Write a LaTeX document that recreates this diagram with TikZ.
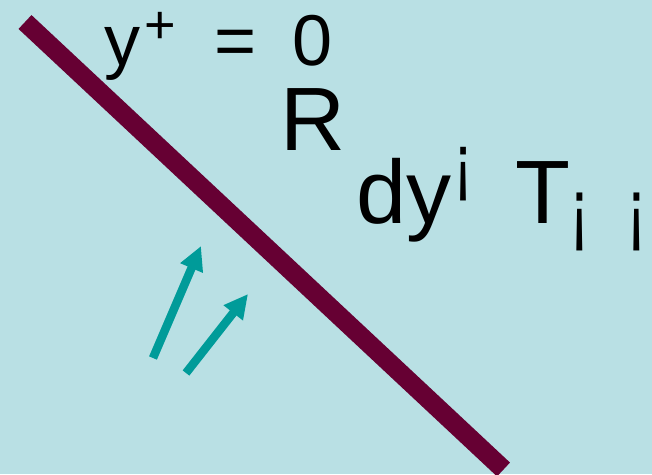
\documentclass[tikz,border=0pt]{standalone}
\usepackage{fontspec}
\usepackage{graphicx}
\setmainfont{Liberation Sans}
\usetikzlibrary{arrows.meta}
\definecolor{bgblue}{HTML}{B9E0E4}
\definecolor{wallred}{HTML}{660033}
\definecolor{tealar}{HTML}{009B99}
\tikzset{
  txt/.style={inner sep=0pt, anchor=base west, text=black},
  flowarrow/.style={draw=tealar, line width=8.5pt, -{Triangle[length=24pt,width=23pt]}},
}
\begin{document}
\begin{tikzpicture}[x=1pt,y=-1pt]
\fill[bgblue] (0,0) rectangle (652,474);
\useasboundingbox (0,0) rectangle (652,474);
\coordinate (w1) at (25,22);
\coordinate (w2) at (503.5,469.5);
\draw[wallred, line width=19pt] (w1) -- (w2);
\node[txt, font=\fontsize{72}{80}\selectfont] (yy) at (104,65) {y};
\node[txt, font=\fontsize{54}{60}\selectfont] (plus) at (144,43) {+};
\node[txt, font=\fontsize{72}{80}\selectfont] (eq) at (214,65) {=};
\node[txt, font=\fontsize{72}{80}\selectfont] (zero) at (292,65) {0};
\node[txt, font=\fontsize{90}{100}\selectfont] (R) at (280,150) {R};
\node[txt, font=\fontsize{90}{100}\selectfont] (dy) at (356,223) {dy};
\node[txt, font=\fontsize{60}{70}\selectfont] (s1) at (453,188) {\scalebox{1}[1.3]{¡}};
\node[txt, font=\fontsize{90}{100}\selectfont] (T) at (515,223) {T};
\node[txt, font=\fontsize{62}{70}\selectfont] (s2) at (569,237) {\scalebox{1}[1.36]{¡}};
\node[txt, font=\fontsize{62}{70}\selectfont] (s3) at (626,237) {\scalebox{1}[1.36]{¡}};
\coordinate (a1s) at (153,358);
\coordinate (a1e) at (201,246);
\coordinate (a2s) at (186,373);
\coordinate (a2e) at (248,294);
\draw[flowarrow] (a1s) -- (a1e);
\draw[flowarrow] (a2s) -- (a2e);
\end{tikzpicture}
\end{document}
